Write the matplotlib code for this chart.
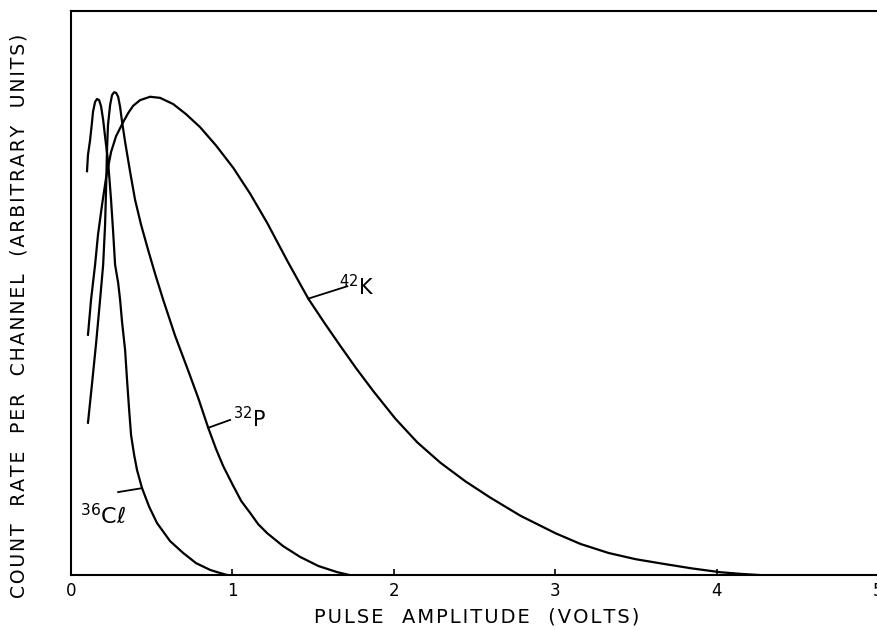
import matplotlib
matplotlib.use("Agg")
import matplotlib.pyplot as plt

# pulse-height spectra read as (volts, relative count rate)
k42_v = [0.105, 0.124, 0.149, 0.167, 0.192, 0.217, 0.248, 0.279, 0.323, 0.354,
         0.385, 0.428, 0.490, 0.552, 0.633, 0.713, 0.800, 0.900, 1.005, 1.110,
         1.216, 1.340, 1.470, 1.570, 1.669, 1.768, 1.873, 2.010, 2.146, 2.289,
         2.444, 2.599, 2.785, 3.002, 3.157, 3.331, 3.499, 3.666, 3.840, 4.020,
         4.150, 4.262]
k42_y = [0.426, 0.488, 0.550, 0.603, 0.656, 0.704, 0.750, 0.778, 0.803, 0.819,
         0.832, 0.842, 0.848, 0.846, 0.835, 0.817, 0.794, 0.761, 0.722, 0.676,
         0.624, 0.557, 0.490, 0.447, 0.406, 0.366, 0.326, 0.277, 0.235, 0.199,
         0.166, 0.137, 0.105, 0.074, 0.055, 0.039, 0.028, 0.020, 0.012, 0.005,
         0.002, 0.0]

p32_v = [0.105, 0.130, 0.155, 0.180, 0.199, 0.211, 0.217, 0.223, 0.229, 0.242,
         0.254, 0.267, 0.279, 0.292, 0.304, 0.316, 0.335, 0.366, 0.397, 0.434,
         0.478, 0.521, 0.571, 0.645, 0.720, 0.788, 0.850, 0.899, 0.943, 1.005,
         1.055, 1.110, 1.160, 1.216, 1.315, 1.420, 1.532, 1.650, 1.725]
p32_y = [0.270, 0.339, 0.410, 0.488, 0.550, 0.621, 0.683, 0.754, 0.798, 0.833,
         0.851, 0.856, 0.855, 0.848, 0.830, 0.804, 0.768, 0.715, 0.665, 0.621,
         0.576, 0.534, 0.488, 0.424, 0.367, 0.314, 0.261, 0.223, 0.193, 0.158,
         0.131, 0.110, 0.090, 0.074, 0.051, 0.032, 0.016, 0.005, 0.0]

cl36_v = [0.099, 0.105, 0.118, 0.130, 0.136, 0.149, 0.161, 0.174, 0.186, 0.199,
          0.211, 0.230, 0.248, 0.261, 0.273, 0.292, 0.304, 0.316, 0.335, 0.347,
          0.360, 0.372, 0.391, 0.409, 0.440, 0.484, 0.533, 0.614, 0.695, 0.775,
          0.862, 0.918, 0.968]
cl36_y = [0.716, 0.745, 0.771, 0.803, 0.821, 0.839, 0.844, 0.842, 0.831, 0.807,
          0.777, 0.732, 0.665, 0.608, 0.550, 0.518, 0.488, 0.449, 0.399, 0.346,
          0.293, 0.248, 0.213, 0.186, 0.154, 0.121, 0.092, 0.060, 0.039, 0.021,
          0.009, 0.004, 0.0]

x_ticks = [0, 1, 2, 3, 4, 5]
x_tick_labels = ["0", "1", "2", "3", "4", "5"]


def spaced(text):
    # hand-lettered captions are loosely set, so pad every character a little
    return "\u200a".join(text)


fig = plt.figure(figsize=(8.78, 6.30), dpi=100)
ax = fig.add_axes([0.0809, 0.0873, 0.9191, 0.8952])

lw = 1.6
ax.plot(k42_v, k42_y, color="black", lw=lw, solid_joinstyle="round")
ax.plot(p32_v, p32_y, color="black", lw=lw, solid_joinstyle="round")
ax.plot(cl36_v, cl36_y, color="black", lw=lw, solid_joinstyle="round")

# leader lines and isotope labels
ax.plot([1.470, 1.712], [0.490, 0.512], color="black", lw=1.3)
ax.text(1.66, 0.496, r"$^{42}$K", fontsize=15, ha="left", va="baseline")
ax.plot([0.850, 0.986], [0.261, 0.275], color="black", lw=1.3)
ax.text(1.005, 0.262, r"$^{32}$P", fontsize=15, ha="left", va="baseline")
ax.plot([0.292, 0.440], [0.147, 0.154], color="black", lw=1.3)
ax.text(0.056, 0.092, r"$^{36}$Cℓ", fontsize=16, ha="left", va="baseline")

ax.set_xlim(0, 5)
ax.set_ylim(0, 1)
ax.set_xticks(x_ticks)
ax.set_xticklabels(x_tick_labels, fontsize=12)
ax.set_yticks([])
ax.tick_params(axis="x", direction="in", length=4, width=1.2, pad=5)
for side in ("left", "top", "bottom"):
    ax.spines[side].set_linewidth(1.5)
ax.spines["right"].set_visible(False)

ax.set_xlabel(spaced("PULSE  AMPLITUDE  (VOLTS)"), fontsize=14)
ax.xaxis.set_label_coords(0.503, -0.058)
ax.set_ylabel(spaced("COUNT  RATE  PER  CHANNEL  (ARBITRARY  UNITS)"), fontsize=13.5)
ax.yaxis.set_label_coords(-0.053, 0.459)

fig.savefig("out.png", dpi=100)
